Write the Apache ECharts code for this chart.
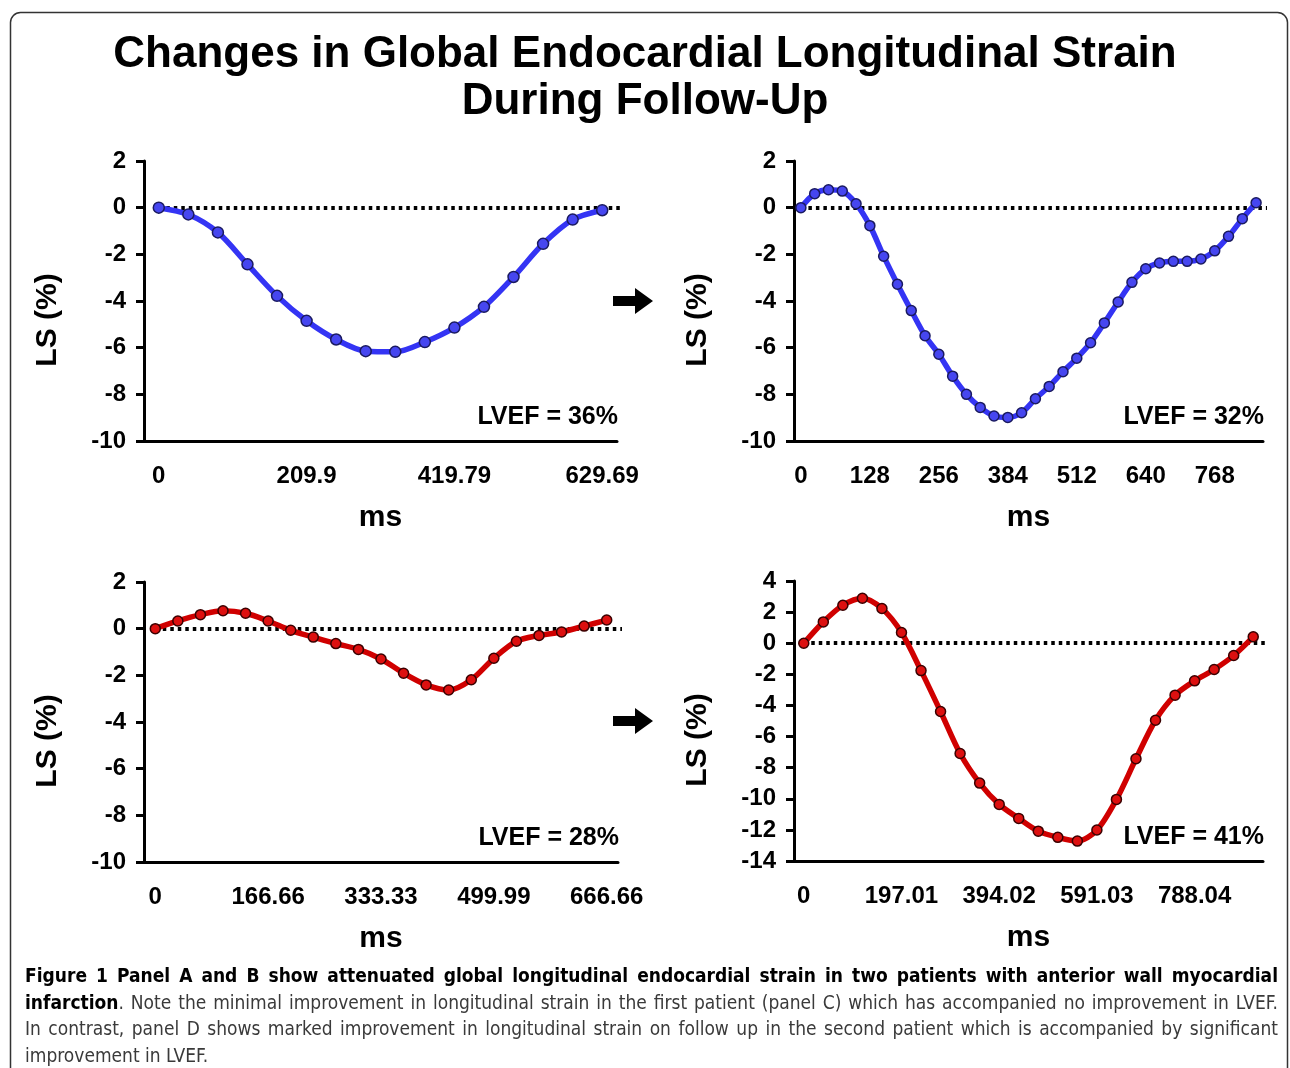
<!DOCTYPE html>
<html>
<head>
<meta charset="utf-8">
<title>Changes in Global Endocardial Longitudinal Strain</title>
<script src="https://cdn.jsdelivr.net/npm/echarts@6/dist/echarts.min.js"></script>
<style>
  html, body { margin: 0; padding: 0; background: #fff; }
  #chart { position: absolute; left: 0; top: 0; width: 1290px; height: 1068px; }
  #cap {
    position: absolute; left: 25px; top: 962px; width: 1253px;
    font-family: "DejaVu Sans Condensed", "Liberation Sans Narrow", sans-serif;
    font-size: 19px; line-height: 26.5px; color: #3a3a3a;
  }
  #cap .ln { white-space: nowrap; }
  #cap .j { text-align: justify; text-align-last: justify; }
  #cap b { color: #000; }
</style>
</head>
<body>
<div id="chart"></div>
<div id="cap">
  <div class="ln j"><b>Figure 1 Panel A and B show attenuated global longitudinal endocardial strain in two patients with anterior wall myocardial</b></div>
  <div class="ln j"><b>infarction</b>. Note the minimal improvement in longitudinal strain in the first patient (panel C) which has accompanied no improvement in LVEF.</div>
  <div class="ln j">In contrast, panel D shows marked improvement in longitudinal strain on follow up in the second patient which is accompanied by significant</div>
  <div class="ln">improvement in LVEF.</div>
</div>
<script>
// time points (ms) and longitudinal strain (%) for each panel
const msA = ["0", "41.98", "83.96", "125.94", "167.92", "209.9", "251.87", "293.85", "335.83", "377.81",
  "419.79", "461.77", "503.75", "545.73", "587.71", "629.69"];
const lsA = [0, -0.29, -1.06, -2.43, -3.78, -4.85, -5.65, -6.15, -6.18, -5.76, -5.14, -4.25, -2.97, -1.55, -0.51, -0.11];

const msB = ["0", "25.6", "51.2", "76.8", "102.4", "128", "153.6", "179.2", "204.8", "230.4", "256", "281.6",
  "307.2", "332.8", "358.4", "384", "409.6", "435.2", "460.8", "486.4", "512", "537.6", "563.2", "588.8",
  "614.4", "640", "665.6", "691.2", "716.8", "742.4", "768", "793.6", "819.2", "844.8"];
const lsB = [0, 0.6, 0.77, 0.71, 0.17, -0.77, -2.08, -3.28, -4.41, -5.49, -6.28, -7.22, -8.0, -8.56, -8.93,
  -8.99, -8.79, -8.19, -7.66, -7.03, -6.45, -5.79, -4.94, -4.04, -3.2, -2.62, -2.37, -2.3, -2.3, -2.2,
  -1.85, -1.23, -0.47, 0.21];

const msC = ["0", "33.33", "66.66", "99.99", "133.33", "166.66", "199.99", "233.33", "266.66", "299.99",
  "333.33", "366.66", "399.99", "433.33", "466.66", "499.99", "533.33", "566.66", "599.99", "633.33", "666.66"];
const lsC = [0, 0.33, 0.6, 0.77, 0.66, 0.33, -0.07, -0.36, -0.64, -0.89, -1.3, -1.91, -2.41, -2.63, -2.19,
  -1.27, -0.54, -0.29, -0.14, 0.11, 0.37];

const msD = ["0", "39.4", "78.8", "118.21", "157.61", "197.01", "236.41", "275.81", "315.22", "354.62",
  "394.02", "433.42", "472.82", "512.23", "551.63", "591.03", "630.43", "669.83", "709.24", "748.64",
  "788.04", "827.44", "866.84", "906.25"];
const lsD = [0, 1.37, 2.44, 2.89, 2.23, 0.69, -1.76, -4.39, -7.09, -8.99, -10.36, -11.26, -12.08, -12.48,
  -12.72, -12.01, -10.04, -7.43, -4.95, -3.34, -2.42, -1.69, -0.79, 0.41];

const lvef = ["LVEF = 36%", "LVEF = 32%", "LVEF = 28%", "LVEF = 41%"];
const yRanges = [[-10, 2], [-10, 2], [-10, 2], [-14, 4]];

const FONT = "'Liberation Sans', Arial, sans-serif";
const BLUE = { line: "#3434f4", fill: "#4646f0", border: "#1a1a60" };
const RED = { line: "#d00000", fill: "#dd1010", border: "#3a0000" };

// grid boxes: left, top, width, height
const boxes = [
  [144, 161, 473, 280],
  [794, 161, 469, 280],
  [144, 582, 474, 280],
  [794, 581, 469, 280]
];
const panels = [
  { cats: msA, vals: lsA, col: BLUE, sym: 11 },
  { cats: msB, vals: lsB, col: BLUE, sym: 10 },
  { cats: msC, vals: lsC, col: RED, sym: 10 },
  { cats: msD, vals: lsD, col: RED, sym: 10 }
];

const chart = echarts.init(document.getElementById("chart"));

const grid = [], xAxis = [], yAxis = [], series = [], graphic = [];

panels.forEach((p, i) => {
  const b = boxes[i];
  grid.push({ left: b[0], top: b[1], width: b[2], height: b[3], containLabel: false });

  xAxis.push({
    type: "category", gridIndex: i, data: p.cats, boundaryGap: true,
    name: "ms", nameLocation: "middle", nameGap: 62,
    nameTextStyle: { fontFamily: FONT, fontWeight: "bold", fontSize: 30, color: "#000" },
    axisLine: { onZero: false, lineStyle: { color: "#000", width: 3 } },
    axisTick: { interval: 0, length: 8, lineStyle: { color: "#000", width: 3 } },
    axisLabel: { interval: 4, margin: 23, fontFamily: FONT, fontWeight: "bold", fontSize: 24, color: "#000" },
    splitLine: { show: false }
  });

  yAxis.push({
    type: "value", gridIndex: i, min: yRanges[i][0], max: yRanges[i][1], interval: 2,
    axisLine: { show: true, lineStyle: { color: "#000", width: 3 } },
    axisTick: { show: true, length: 8, lineStyle: { color: "#000", width: 3 } },
    axisLabel: { margin: 18, fontFamily: FONT, fontWeight: "bold", fontSize: 24, color: "#000" },
    splitLine: { show: false }
  });

  series.push({
    type: "line", xAxisIndex: i, yAxisIndex: i, data: p.vals,
    smooth: 0.3, symbol: "circle", symbolSize: p.sym, showSymbol: true, showAllSymbol: true,
    lineStyle: { color: p.col.line, width: 5.5 },
    itemStyle: { color: p.col.fill, borderColor: p.col.border, borderWidth: 1.5 },
    animation: false,
    markLine: {
      silent: true, symbol: "none", label: { show: false }, z: 1,
      lineStyle: { color: "#000", width: 4, type: [3.5, 4], cap: "butt" },
      emphasis: { disabled: true },
      data: [[{ coord: [0, 0] }, { coord: [p.cats.length - 1, 0], x: b[0] + b[2] + 4 }]]
    }
  });

  // y-axis title and LVEF note
  graphic.push({
    type: "text", x: b[0] - 96, y: b[1] + 159, rotation: Math.PI / 2,
    style: { text: "LS (%)", font: "bold 30px " + FONT, fill: "#000", align: "center", verticalAlign: "middle" }
  });
  graphic.push({
    type: "text", x: b[0] + b[2] + 1, y: b[1] + 256,
    style: { text: lvef[i], font: "bold 25px " + FONT, fill: "#000", align: "right", verticalAlign: "middle" }
  });
});

// arrows between the before / after panels
[301, 721].forEach(cy => {
  graphic.push({
    type: "polygon",
    shape: { points: [[613, cy - 5], [635, cy - 5], [635, cy - 13], [653, cy], [635, cy + 13], [635, cy + 5], [613, cy + 5]] },
    style: { fill: "#000" }
  });
});

// figure frame
graphic.push({
  type: "rect", z: -1,
  shape: { x: 10.5, y: 12.5, width: 1277, height: 1100, r: 10 },
  style: { fill: null, stroke: "#333", lineWidth: 1.5 }
});

chart.setOption({
  backgroundColor: "#fff",
  animation: false,
  title: {
    text: "Changes in Global Endocardial Longitudinal Strain\nDuring Follow-Up",
    left: "center", top: 26,
    textStyle: { fontFamily: FONT, fontWeight: "bold", fontSize: 44, lineHeight: 47, color: "#000" }
  },
  grid: grid,
  xAxis: xAxis,
  yAxis: yAxis,
  series: series,
  graphic: graphic
});
</script>
</body>
</html>
